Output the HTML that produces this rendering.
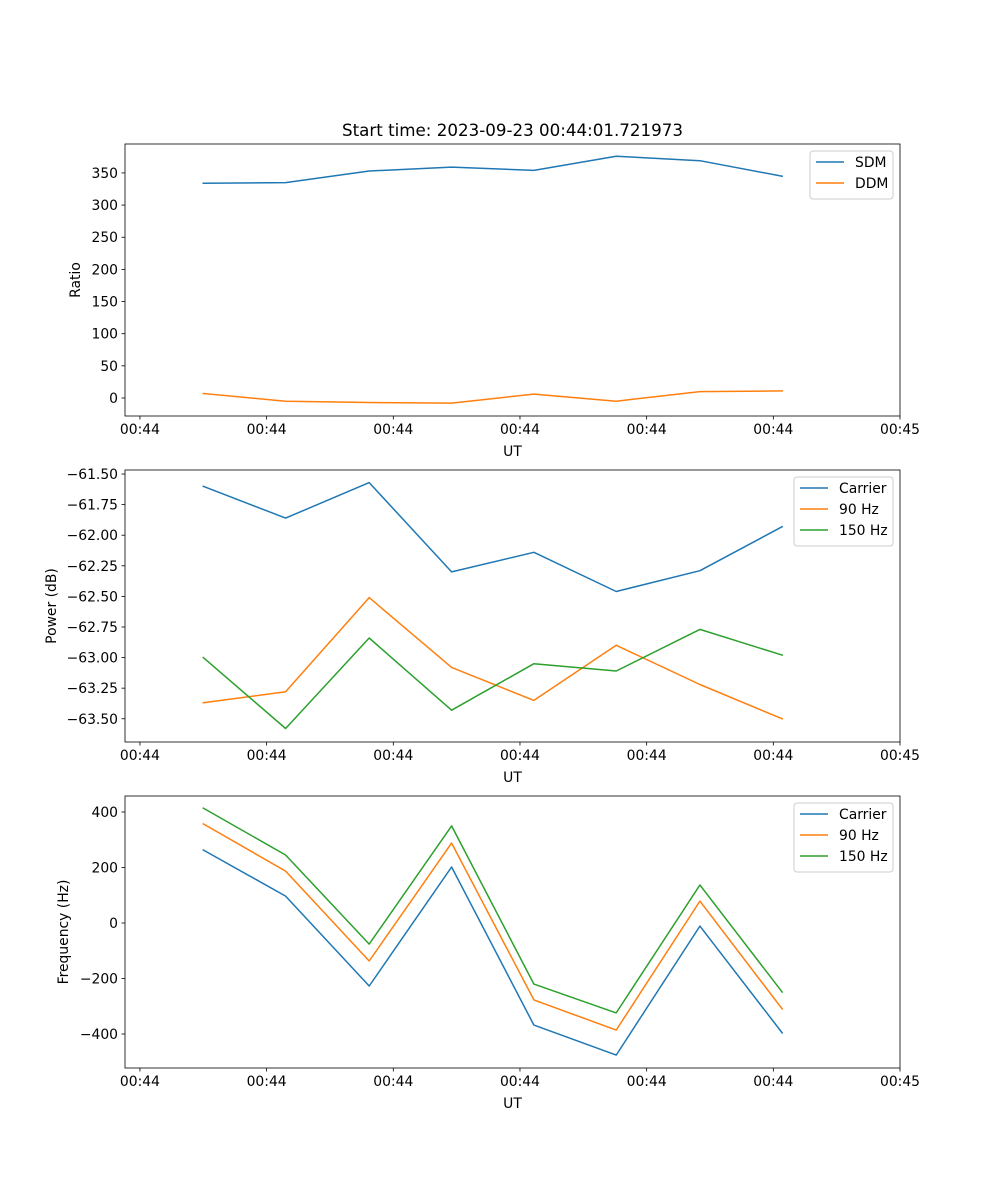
<!DOCTYPE html>
<html><head><meta charset="utf-8"><style>
body{margin:0;background:#fff}
svg{display:block;font-family:"DejaVu Sans","Liberation Sans",sans-serif}
</style></head><body>
<svg id="fig" width="1000" height="1200" xmlns="http://www.w3.org/2000/svg">
<rect width="1000" height="1200" fill="#fff"/>
<text x="512.5" y="136" text-anchor="middle" font-size="16.7">Start time: 2023-09-23 00:44:01.721973</text>
</svg>
<script>
// time in seconds after 00:44:00
const times = [5.0, 11.5, 18.1, 24.6, 31.1, 37.6, 44.2, 50.7];
const xTickLabels = ["00:44","00:44","00:44","00:44","00:44","00:44","00:45"];
const sdm = [334, 335, 353, 359, 354, 376, 369, 345];
const ddm = [7, -5, -7, -8, 6, -5, 10, 11];
const pCarrier = [-61.60, -61.86, -61.57, -62.30, -62.14, -62.46, -62.29, -61.93];
const p90 = [-63.37, -63.28, -62.51, -63.08, -63.35, -62.90, -63.22, -63.50];
const p150 = [-63.00, -63.58, -62.84, -63.43, -63.05, -63.11, -62.77, -62.98];
const fCarrier = [263, 97, -227, 202, -368, -476, -11, -396];
const f90 = [357, 187, -137, 288, -277, -386, 79, -310];
const f150 = [414, 245, -76, 350, -220, -324, 137, -249];
const ratioTicks = [0,50,100,150,200,250,300,350];
const powerTicks = [-63.5,-63.25,-63.0,-62.75,-62.5,-62.25,-62.0,-61.75,-61.5];
const freqTicks = [-400,-200,0,200,400];

const svg = document.getElementById('fig');
const NS = 'http://www.w3.org/2000/svg';
const C = ['#1f77b4','#ff7f0e','#2ca02c'];
function mk(tag, attrs, parent){const e=document.createElementNS(NS,tag);for(const k in attrs)e.setAttribute(k,attrs[k]);(parent||svg).appendChild(e);return e;}
const L=125,R=900;
const xMin=-1.18,xMax=60;
const xs = t => L + (t - xMin)/(xMax - xMin)*(R-L);
const fmtMinus = s => s.replace('-','\u2212');

function panel(name, top, bottom, yMin, yMax, ticks, fmt, ylabel, ylabelX, series, legend){
  const ys = v => bottom - (v - yMin)/(yMax - yMin)*(bottom-top);
  const g = mk('g',{});
  
  
  // lines
  series.forEach((s,i)=>{
    const pts = s.vals.map((v,j)=>xs(times[j]).toFixed(1)+','+ys(v).toFixed(1)).join(' ');
    const pl = mk('polyline',{points:pts,fill:'none',stroke:C[i],'stroke-width':1.5,'stroke-linejoin':'round','stroke-linecap':'square'},g);
    
    
  });
  const fr = mk('rect',{x:L,y:top,width:R-L,height:bottom-top,fill:'none',stroke:'#000','stroke-width':0.8},g);
  
  
  // x ticks
  xTickLabels.forEach((lab,i)=>{
    const x = xs(i*10);
    mk('line',{x1:x,x2:x,y1:bottom,y2:bottom+3.5,stroke:'#000','stroke-width':0.8},g);
    const t = mk('text',{x:x,y:bottom+18,'text-anchor':'middle','font-size':13.9},g);
    t.textContent = lab;
    
    
  });
  const xl = mk('text',{x:(L+R)/2,y:bottom+40,'text-anchor':'middle','font-size':13.9},g);
  xl.textContent='UT';
  
  
  // y ticks
  ticks.forEach(v=>{
    const y = ys(v);
    mk('line',{x1:L-3.5,x2:L,y1:y,y2:y,stroke:'#000','stroke-width':0.8},g);
    const t = mk('text',{x:L-7,y:y+5,'text-anchor':'end','font-size':13.9},g);
    t.textContent = fmtMinus(fmt(v));
    
    
  });
  const yl = mk('text',{x:ylabelX,y:(top+bottom)/2,'text-anchor':'middle','font-size':13.9,transform:'rotate(-90 '+ylabelX+' '+(top+bottom)/2+')'},g);
  yl.textContent = ylabel;
  
  
  // legend
  const lg = mk('g',{},g);
  
  
  mk('rect',{x:legend.x,y:top+7,width:R-7-legend.x,height:series.length*21+6,rx:3,fill:'#fff','fill-opacity':0.8,stroke:'#ccc','stroke-width':1},lg);
  series.forEach((s,i)=>{
    const y = top+18+i*21;
    mk('line',{x1:legend.x+6,x2:legend.x+34,y1:y,y2:y,stroke:C[i],'stroke-width':1.5},lg);
    const t = mk('text',{x:legend.x+45,y:y+5,'font-size':13.9},lg);
    t.textContent = s.label;
    
    
  });
}

panel('ratio',144,416,-28,395,ratioTicks,v=>String(v),'Ratio',80,
  [{key:'sdm',label:'SDM',vals:sdm},{key:'ddm',label:'DDM',vals:ddm}],{x:810});
panel('power',470,742,-63.69,-61.467,powerTicks,v=>v.toFixed(2),'Power (dB)',56,
  [{key:'carrier',label:'Carrier',vals:pCarrier},{key:'90hz',label:'90 Hz',vals:p90},{key:'150hz',label:'150 Hz',vals:p150}],{x:794});
panel('frequency',796,1068,-522.5,457.7,freqTicks,v=>String(v),'Frequency (Hz)',68,
  [{key:'carrier',label:'Carrier',vals:fCarrier},{key:'90hz',label:'90 Hz',vals:f90},{key:'150hz',label:'150 Hz',vals:f150}],{x:794});
</script>
</body></html>
